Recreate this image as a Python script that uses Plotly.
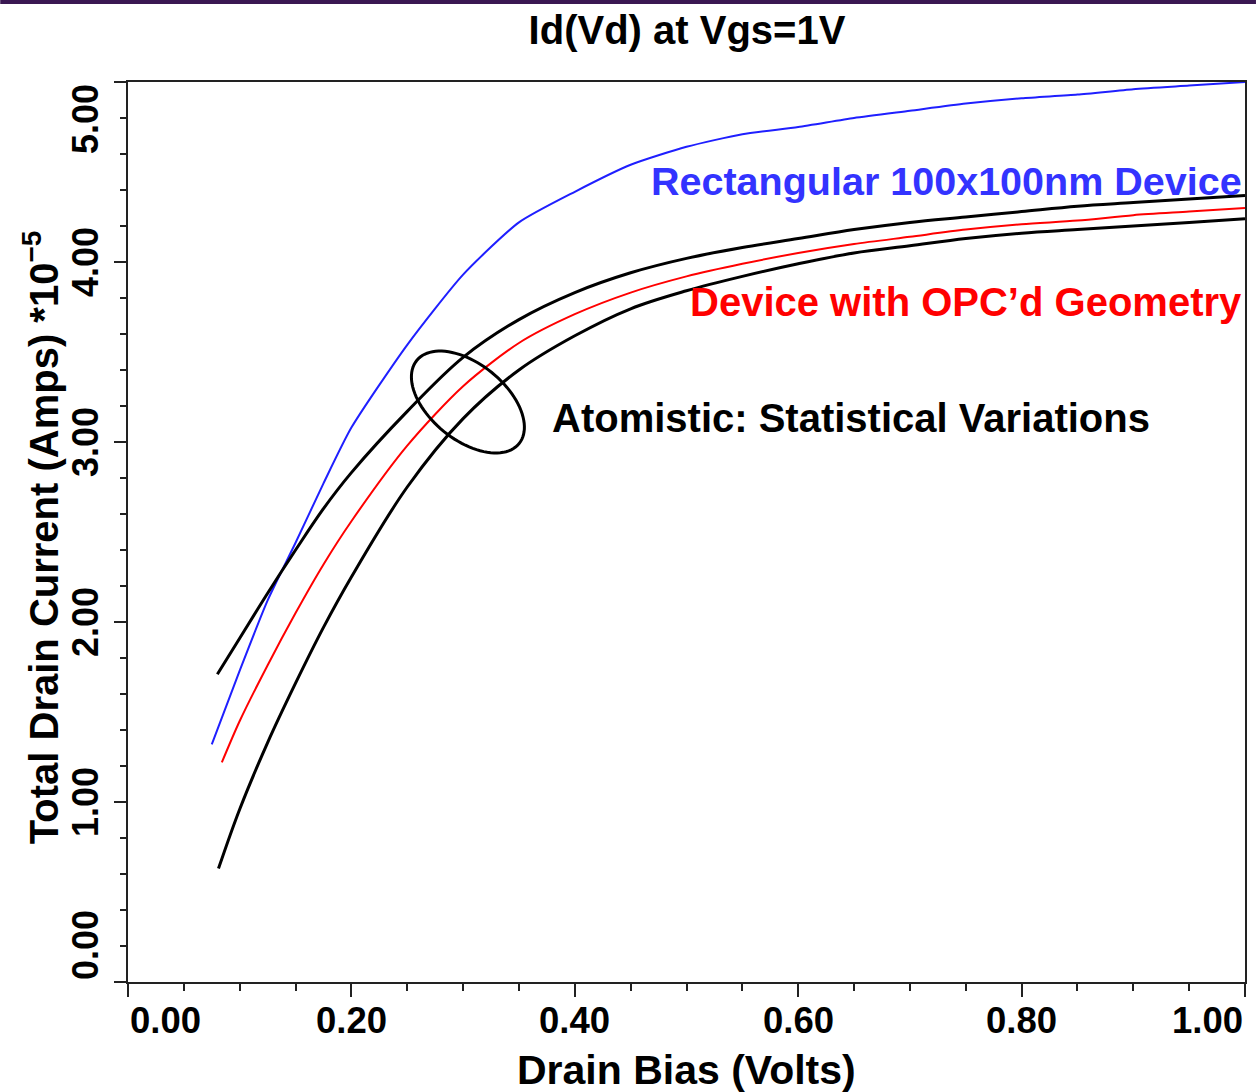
import numpy as np
import plotly.graph_objects as go

# ---------------- data ----------------
vd_rect = [0.075, 0.10, 0.125, 0.15, 0.175, 0.20, 0.25, 0.30, 0.35, 0.40, 0.45,
           0.50, 0.55, 0.60, 0.65, 0.70, 0.75, 0.80, 0.85, 0.90, 0.95, 1.00]
id_rect = [1.32, 1.73, 2.12, 2.44, 2.77, 3.08, 3.54, 3.93, 4.22, 4.39, 4.54,
           4.64, 4.71, 4.75, 4.80, 4.84, 4.88, 4.91, 4.93, 4.96, 4.98, 5.00]

vd_opc = [0.084, 0.10, 0.125, 0.15, 0.175, 0.20, 0.25, 0.30, 0.35, 0.40, 0.45,
          0.50, 0.55, 0.60, 0.65, 0.70, 0.75, 0.80, 0.85, 0.90, 0.95, 1.00]
id_opc = [1.22, 1.45, 1.76, 2.05, 2.32, 2.56, 2.98, 3.31, 3.55, 3.71, 3.83,
          3.92, 3.99, 4.05, 4.10, 4.14, 4.18, 4.21, 4.23, 4.26, 4.28, 4.30]

vd_upper = [0.080, 0.10, 0.125, 0.15, 0.175, 0.20, 0.25, 0.30, 0.35, 0.40, 0.45,
            0.50, 0.55, 0.60, 0.65, 0.70, 0.75, 0.80, 0.85, 0.90, 0.95, 1.00]
id_upper = [1.71, 1.91, 2.16, 2.40, 2.63, 2.83, 3.17, 3.47, 3.68, 3.83, 3.94,
            4.02, 4.08, 4.13, 4.18, 4.22, 4.25, 4.28, 4.31, 4.33, 4.35, 4.37]

vd_lower = [0.081, 0.10, 0.125, 0.15, 0.175, 0.20, 0.25, 0.30, 0.35, 0.40, 0.45,
            0.50, 0.55, 0.60, 0.65, 0.70, 0.75, 0.80, 0.85, 0.90, 0.95, 1.00]
id_lower = [0.63, 0.96, 1.33, 1.66, 1.97, 2.25, 2.75, 3.13, 3.40, 3.59, 3.74,
            3.84, 3.92, 3.99, 4.05, 4.09, 4.13, 4.16, 4.18, 4.20, 4.22, 4.24]

x_tick_vals = [0.0, 0.2, 0.4, 0.6, 0.8, 1.0]
x_tick_text = ["0.00", "0.20", "0.40", "0.60", "0.80", "1.00"]
y_tick_vals = [0, 1, 2, 3, 4, 5]
y_tick_text = ["0.00", "1.00", "2.00", "3.00", "4.00", "5.00"]

title_text = "Id(Vd) at Vgs=1V"
x_title = "Drain Bias (Volts)"
y_title = "Total Drain Current (Amps) *10<sup>\u22125</sup>"
label_rect = "Rectangular 100x100nm Device"
label_opc = "Device with OPC\u2019d Geometry"
label_atom = "Atomistic: Statistical Variations"

# ---------------- layout constants ----------------
W, H = 1258, 1092
ML, MR, MT, MB = 128, 11, 82, 110
PW, PH = W - ML - MR, H - MT - MB
XR, YR = [0, 1.0], [0, 5.0]
FONT = "Liberation Sans, Arial, Helvetica, sans-serif"
AX = "#222222"

fig = go.Figure()
fig.add_trace(go.Scatter(x=vd_rect, y=id_rect, mode="lines",
                         line=dict(color="#1f1fff", width=2, shape="spline", smoothing=0.6),
                         name=label_rect))
fig.add_trace(go.Scatter(x=vd_upper, y=id_upper, mode="lines",
                         line=dict(color="#000000", width=3, shape="spline", smoothing=1.0),
                         name="Atomistic upper"))
fig.add_trace(go.Scatter(x=vd_opc, y=id_opc, mode="lines",
                         line=dict(color="#ff0000", width=2, shape="spline", smoothing=0.8),
                         name=label_opc))
fig.add_trace(go.Scatter(x=vd_lower, y=id_lower, mode="lines",
                         line=dict(color="#000000", width=3, shape="spline", smoothing=1.0),
                         name="Atomistic lower"))

axis_common = dict(showgrid=False, zeroline=False, showline=True, linecolor=AX,
                   linewidth=2, mirror=True, ticks="outside", tickcolor=AX,
                   tickwidth=2, showticklabels=False, tickmode="linear", tick0=0)
fig.update_xaxes(range=XR, dtick=0.2, ticklen=13,
                 minor=dict(dtick=0.05, ticklen=7, tickwidth=2, tickcolor=AX,
                            ticks="outside", showgrid=False),
                 **axis_common)
fig.update_yaxes(range=YR, dtick=1, ticklen=12,
                 minor=dict(dtick=0.2, ticklen=6, tickwidth=2, tickcolor=AX,
                            ticks="outside", showgrid=False),
                 **axis_common)

annotations = []
# x tick labels
for i, (v, t) in enumerate(zip(x_tick_vals, x_tick_text)):
    anchor = "left" if i == 0 else ("right" if i == len(x_tick_vals) - 1 else "center")
    annotations.append(dict(x=v, xref="x", y=-38 / PH, yref="paper",
                            text=t, showarrow=False, xanchor=anchor, yanchor="middle",
                            font=dict(family=FONT, size=36.5, color="black", weight="bold")))
# y tick labels (rotated)
for i, (v, t) in enumerate(zip(y_tick_vals, y_tick_text)):
    anchor = "bottom" if i == 0 else ("top" if i == len(y_tick_vals) - 1 else "middle")
    annotations.append(dict(x=-43 / PW, xref="paper", y=v, yref="y", text=t,
                            showarrow=False, textangle=-90, xanchor="center", yanchor=anchor,
                            font=dict(family=FONT, size=36, color="black", weight="bold")))
# axis titles
annotations.append(dict(x=(688 - ML) / PW, xref="paper", y=-(1070 - 982) / PH, yref="paper",
                        text=x_title, showarrow=False, xanchor="center", yanchor="middle",
                        font=dict(family=FONT, size=41, color="black", weight="bold")))
annotations.append(dict(x=(41 - ML) / PW, xref="paper", y=(982 - 537) / PH, yref="paper",
                        text=y_title, showarrow=False, textangle=-90,
                        xanchor="center", yanchor="middle",
                        font=dict(family=FONT, size=40, color="black", weight="bold")))
# curve labels
annotations.append(dict(x=0.999, xref="x", y=4.45, yref="y", text=label_rect,
                        showarrow=False, xanchor="right", yanchor="middle",
                        font=dict(family=FONT, size=39.5, color="#3333ff", weight="bold")))
annotations.append(dict(x=0.999, xref="x", y=3.778, yref="y", text=label_opc,
                        showarrow=False, xanchor="right", yanchor="middle",
                        font=dict(family=FONT, size=40, color="#ff0000", weight="bold")))
annotations.append(dict(x=0.3780, xref="x", y=3.133, yref="y", text=label_atom,
                        showarrow=False, xanchor="left", yanchor="middle",
                        font=dict(family=FONT, size=40, color="black", weight="bold")))

# ellipse marking the atomistic spread (pixel-sized, rotated)
px_x = PW / (XR[1] - XR[0])
px_y = PH / (YR[1] - YR[0])
ecx, ecy = 0.3043, 3.222
ea, eb, eth = 66.0, 38.0, np.deg2rad(39.0)
tt = np.linspace(0, 2 * np.pi, 97)
dxp = ea * np.cos(tt) * np.cos(eth) - eb * np.sin(tt) * np.sin(eth)
dyp = ea * np.cos(tt) * np.sin(eth) + eb * np.sin(tt) * np.cos(eth)
ex = ecx + dxp / px_x
ey = ecy - dyp / px_y
path = "M " + " L ".join(f"{a:.5f},{b:.5f}" for a, b in zip(ex, ey)) + " Z"

shapes = [
    dict(type="path", path=path, xref="x", yref="y",
         line=dict(color="black", width=3), fillcolor="rgba(0,0,0,0)"),
    # dark purple strip along the top of the slide
    dict(type="rect", xref="paper", yref="paper",
         x0=-ML / PW, x1=(W - ML) / PW, y0=(PH + MT - 4) / PH, y1=(PH + MT + 2) / PH,
         line=dict(width=0), fillcolor="#3a1852"),
]

fig.update_layout(
    width=W, height=H,
    margin=dict(l=ML, r=MR, t=MT, b=MB),
    paper_bgcolor="white", plot_bgcolor="white",
    showlegend=False,
    title=dict(text=title_text, x=(688 - ML) / PW, xref="paper", xanchor="center",
               y=1 - 30 / H, yref="container", yanchor="middle",
               font=dict(family=FONT, size=40, color="black", weight="bold")),
    annotations=annotations,
    shapes=shapes,
)

fig.write_html(
    "out.html",
    config={"displayModeBar": False},
    post_script="document.body.style.margin='0';document.body.style.overflow='hidden';",
)
